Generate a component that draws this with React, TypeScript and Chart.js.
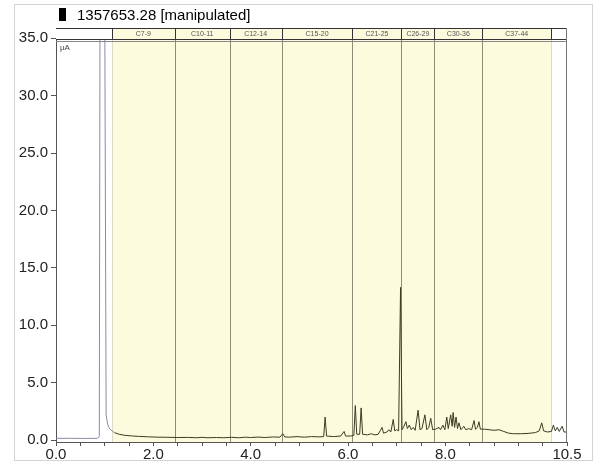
import React, { useEffect, useRef } from "react";
import { Chart, registerables } from "chart.js";
Chart.register(...registerables);

const titleText = "1357653.28 [manipulated]";
const unitLabel = "µA";
const xTickValues = [0, 2, 4, 6, 8, 10.5];
const xTickLabels = ["0.0", "2.0", "4.0", "6.0", "8.0", "10.5"];
const yTickValues = [0, 5, 10, 15, 20, 25, 30, 35];
const regionNames = ["C7-9", "C10-11", "C12-14", "C15-20", "C21-25", "C26-29", "C30-36", "C37-44"];
const regionBounds = [1.149, 2.441, 3.569, 4.636, 6.092, 7.097, 7.774, 8.759, 10.174];

const solventTime = [0, 0.3, 0.6, 0.85, 0.89, 0.905, 1.0, 1.005, 1.03, 1.06, 1.1, 1.15, 1.2];
const solventSignal = [0.15, 0.15, 0.14, 0.15, 0.3, 40, 40, 40, 2.2, 1.4, 1.0, 0.8, 0.65];

const traceTime = [
  1.2, 1.3, 1.4, 1.55, 1.7, 1.9, 2.1, 2.3, 2.5, 2.7, 2.9, 3.0, 3.1, 3.3, 3.45, 3.6, 3.75, 3.9, 4.0, 4.15,
  4.3, 4.45, 4.6, 4.66, 4.7, 4.8, 4.95, 5.1, 5.25, 5.4, 5.5, 5.53, 5.56, 5.7, 5.85, 5.92, 5.95, 6.05, 6.12, 6.15,
  6.18, 6.24, 6.27, 6.3, 6.4, 6.48, 6.55, 6.62, 6.66, 6.7, 6.73, 6.8, 6.84, 6.88, 6.93, 6.96, 7.0, 7.04, 7.08, 7.11,
  7.15, 7.19, 7.22, 7.26, 7.3, 7.34, 7.38, 7.44, 7.48, 7.52, 7.58, 7.62, 7.66, 7.7, 7.74, 7.8, 7.87, 7.9, 7.95, 7.99,
  8.03, 8.06, 8.11, 8.14, 8.16, 8.19, 8.22, 8.25, 8.28, 8.32, 8.38, 8.42, 8.48, 8.54, 8.59, 8.62, 8.66, 8.69, 8.72, 8.8,
  8.9, 9.0, 9.1, 9.2, 9.3, 9.4, 9.55, 9.7, 9.85, 9.93, 9.98, 10.02, 10.1, 10.18, 10.22, 10.26, 10.3, 10.34, 10.4, 10.44,
  10.5,
];
const traceSignal = [
  0.65, 0.5, 0.42, 0.36, 0.32, 0.28, 0.25, 0.24, 0.22, 0.23, 0.2, 0.24, 0.2, 0.22, 0.2, 0.24, 0.2, 0.25, 0.22, 0.26,
  0.22, 0.27, 0.25, 0.55, 0.27, 0.25, 0.3, 0.25, 0.3, 0.28, 0.3, 2.0, 0.35, 0.3, 0.35, 0.75, 0.35, 0.35, 0.4, 3.0,
  0.5, 0.5, 2.8, 0.5, 0.45, 0.55, 0.45, 0.5, 0.8, 1.1, 0.6, 0.7, 0.9, 0.7, 1.8, 0.8, 0.9, 0.8, 13.3, 0.9,
  1.2, 1.6, 1.0, 1.3, 0.9, 1.1, 0.85, 2.6, 0.9, 1.0, 2.2, 0.9, 1.1, 1.9, 0.9, 0.95, 1.1, 0.9, 1.3, 0.9,
  2.0, 1.0, 2.2, 1.2, 2.4, 1.1, 2.0, 1.0, 1.5, 0.9, 1.2, 0.9, 1.0, 0.9, 1.7, 0.95, 1.1, 1.6, 0.95, 0.95,
  0.9, 0.85, 0.9, 0.75, 0.6, 0.55, 0.55, 0.58, 0.65, 0.8, 1.5, 0.8, 0.7, 0.75, 1.3, 0.8, 1.1, 0.75, 1.2, 0.7,
  0.7,
];

const FONT = "'Liberation Sans', Arial, sans-serif";

const decorPlugin = {
  id: "decor",
  beforeDatasetsDraw(chart: any) {
    const { ctx, chartArea } = chart;
    const xs = chart.scales.x;
    const { top, bottom, left, right } = chartArea;
    ctx.save();
    const x0 = xs.getPixelForValue(regionBounds[0]);
    const x1 = xs.getPixelForValue(regionBounds[regionBounds.length - 1]);
    ctx.fillStyle = "#fcfbdd";
    ctx.fillRect(x0, top, x1 - x0, bottom - top);
    ctx.lineWidth = 1;
    regionBounds.forEach((b, i) => {
      const px = Math.round(xs.getPixelForValue(b)) + 0.5;
      const edge = i === 0 || i === regionBounds.length - 1;
      ctx.strokeStyle = edge ? "#dcdcc8" : "#8e8e78";
      ctx.beginPath();
      ctx.moveTo(px, top);
      ctx.lineTo(px, bottom);
      ctx.stroke();
    });
    ctx.restore();
  },
  afterDatasetsDraw(chart: any) {
    const { ctx, chartArea } = chart;
    const xs = chart.scales.x;
    const { top, bottom, left, right } = chartArea;
    const hTop = top;
    const hBot = top + 12;
    ctx.save();
    // header strip
    ctx.fillStyle = "#ffffff";
    ctx.fillRect(left, hTop, right - left, hBot - hTop);
    const x0 = xs.getPixelForValue(regionBounds[0]);
    const x1 = xs.getPixelForValue(regionBounds[regionBounds.length - 1]);
    ctx.fillStyle = "#fbfadc";
    ctx.fillRect(x0, hTop, x1 - x0, hBot - hTop);
    ctx.strokeStyle = "#333";
    ctx.lineWidth = 1;
    ctx.beginPath();
    ctx.moveTo(left, hTop + 0.5);
    ctx.lineTo(right, hTop + 0.5);
    ctx.moveTo(left, hBot - 0.5);
    ctx.lineTo(right, hBot - 0.5);
    ctx.stroke();
    ctx.strokeStyle = "#888";
    ctx.beginPath();
    ctx.moveTo(left, hBot + 1.5);
    ctx.lineTo(right, hBot + 1.5);
    ctx.stroke();
    ctx.strokeStyle = "#333";
    ctx.beginPath();
    regionBounds.forEach((b) => {
      const px = Math.round(xs.getPixelForValue(b)) + 0.5;
      ctx.moveTo(px, hTop);
      ctx.lineTo(px, hBot);
    });
    ctx.stroke();
    ctx.fillStyle = "#555";
    ctx.font = `7px ${FONT}`;
    ctx.textAlign = "center";
    ctx.textBaseline = "middle";
    regionNames.forEach((n, i) => {
      const a = xs.getPixelForValue(regionBounds[i]);
      const b = xs.getPixelForValue(regionBounds[i + 1]);
      ctx.fillText(n, (a + b) / 2, (hTop + hBot) / 2);
    });
    // right border
    ctx.strokeStyle = "#777";
    ctx.beginPath();
    ctx.moveTo(Math.round(right) - 0.5, top);
    ctx.lineTo(Math.round(right) - 0.5, bottom);
    ctx.stroke();
    // unit label
    ctx.fillStyle = "#444";
    ctx.font = `8px ${FONT}`;
    ctx.textAlign = "left";
    ctx.fillText(unitLabel, left + 4, hBot + 8);
    // title
    ctx.fillStyle = "#000";
    ctx.fillRect(59, 8, 7, 13);
    ctx.font = `15px ${FONT}`;
    ctx.textBaseline = "alphabetic";
    ctx.fillText(titleText, 77, 20);
    // outer frame
    ctx.strokeStyle = "#d4d4d4";
    ctx.strokeRect(14.5, 4.5, 578, 456);
    ctx.restore();
  },
};

export default function App() {
  const ref = useRef<HTMLCanvasElement | null>(null);
  useEffect(() => {
    if (!ref.current) return;
    const chart = new Chart(ref.current, {
      type: "line",
      data: {
        datasets: [
          {
            data: solventTime.map((t, i) => ({ x: t, y: solventSignal[i] })),
            borderColor: "#8a8aa8",
            borderWidth: 1,
            pointRadius: 0,
            tension: 0,
          },
          {
            data: traceTime.map((t, i) => ({ x: t, y: traceSignal[i] })),
            borderColor: "#3c3c24",
            borderWidth: 1,
            pointRadius: 0,
            tension: 0,
          },
        ],
      },
      options: {
        animation: false,
        responsive: false,
        maintainAspectRatio: false,
        layout: { padding: { left: 0, top: 28, right: 35, bottom: 0 } },
        plugins: { legend: { display: false }, tooltip: { enabled: false } },
        scales: {
          x: {
            type: "linear",
            min: 0,
            max: 10.5,
            afterBuildTicks: (s: any) => {
              const arr: any[] = [];
              for (let v = 0; v <= 10.5001; v += 0.5) arr.push({ value: Math.round(v * 10) / 10 });
              s.ticks = arr;
            },
            afterFit: (s: any) => {
              s.height = 23;
            },
            grid: { drawOnChartArea: false, drawTicks: true, tickLength: 4, color: "#555" },
            border: { color: "#555" },
            ticks: {
              autoSkip: false,
              maxRotation: 0,
              padding: 0,
              color: "#222",
              font: { family: FONT, size: 15 },
              callback: (v: any) => {
                const i = xTickValues.indexOf(Number(v));
                return i >= 0 ? xTickLabels[i] : "";
              },
            },
          },
          y: {
            type: "linear",
            min: -0.17,
            max: 35.9,
            afterBuildTicks: (s: any) => {
              s.ticks = yTickValues.map((v) => ({ value: v }));
            },
            afterFit: (s: any) => {
              s.width = 56;
            },
            grid: { drawOnChartArea: false, drawTicks: true, tickLength: 5, color: "#555" },
            border: { color: "#555" },
            ticks: {
              padding: 3,
              color: "#222",
              font: { family: FONT, size: 15 },
              callback: (v: any) => Number(v).toFixed(1),
            },
          },
        },
      },
      plugins: [decorPlugin],
    });
    return () => chart.destroy();
  }, []);
  return (
    <div style={{ position: "fixed", left: 0, top: 0, width: 602, height: 465, background: "#fff" }}>
      <canvas ref={ref} width={602} height={465} style={{ width: 602, height: 465 }} />
    </div>
  );
}
